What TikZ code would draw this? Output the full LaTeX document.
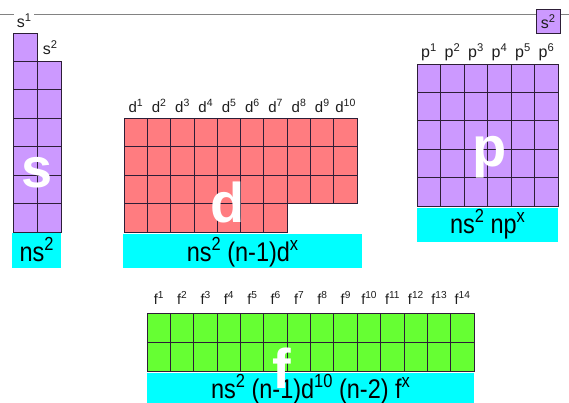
\documentclass[tikz,border=0pt]{standalone}
\usepackage{fontspec}
\setmainfont{Liberation Sans}
\definecolor{sblk}{RGB}{204,153,255}
\definecolor{dblk}{RGB}{255,124,128}
\definecolor{fblk}{RGB}{102,255,51}
\definecolor{cfgc}{RGB}{0,255,255}
\definecolor{gridc}{RGB}{45,30,55}
\definecolor{rulec}{RGB}{130,130,130}
\definecolor{labc}{RGB}{30,30,30}
% raised, reduced superscript that follows the current font size
\newcommand\hi[1]{\raisebox{0.4em}{\scalebox{0.7}{#1}}}
% slightly taller lettering for the configuration strips
\newcommand\tallx[1]{\scalebox{1}[1.15]{#1}}
\tikzset{
  scell/.style={fill=sblk,draw=gridc,line width=0.8pt},
  dcell/.style={fill=dblk,draw=gridc,line width=0.8pt},
  fcell/.style={fill=fblk,draw=gridc,line width=0.8pt},
  cfgbox/.style={fill=cfgc},
  cfgtext/.style={anchor=base,inner sep=0pt,font=\fontsize{23.5}{26}\selectfont},
  biglet/.style={anchor=base,inner sep=0pt,text=white,font=\fontsize{56}{60}\selectfont\bfseries},
  slab/.style={anchor=base,inner sep=1pt,text=labc,font=\fontsize{16}{18}\selectfont},
  dlab/.style={anchor=base,inner sep=0pt,text=labc,font=\fontsize{15}{17}\selectfont},
  flab/.style={anchor=base,inner sep=0pt,text=labc,font=\fontsize{14.5}{16}\selectfont},
}
\begin{document}
\begin{tikzpicture}[x=1pt,y=-1pt]
\useasboundingbox (0,0) rectangle (569,403);
\fill[white] (0,0) rectangle (569,403);
% top rule
\coordinate (ruleL) at (0,15);
\coordinate (ruleR) at (569,15);
\draw[rulec,line width=1pt] (ruleL) -- (ruleR);

% s block
\foreach \j in {0,...,6} \draw[scell] (13,{33+28.43*\j}) rectangle ++(24,28.43);
\foreach \j in {0,...,5} \draw[scell] (37,{61+28.5*\j}) rectangle ++(24,28.5);
\node[slab,fill=white,inner xsep=3pt] (s1) at (24,28) {s\hi{1}};
\node[slab] (s2) at (50,55) {s\hi{2}};
\fill[cfgbox] (12,233) rectangle (61,268);
\node[cfgtext] (sconf) at (36.5,261) {\tallx{ns\hi{2}}};
\node[biglet] (sbig) at (37,187) {s};

% helium s2 box
\draw[scell] (536,9) rectangle (560,33);
\node[slab] (he) at (548,29) {s\hi{2}};

% p block
\foreach \i in {0,...,5} \foreach \j in {0,...,4}
  \draw[scell] ({417+23.5*\i},{64+28.4*\j}) rectangle ++(23.5,28.4);
\foreach \n in {1,...,6}
  \node[slab] (p\n) at ({417+23.5*(\n-0.5)},58) {p\hi{\n}};
\fill[cfgbox] (417,208) rectangle (558,242);
\node[cfgtext] (pconf) at (487.5,233) {\tallx{ns\hi{2} np\hi{x}}};
\node[biglet] (pbig) at (490,167) {p};

% d block
\foreach \i in {0,...,9} \foreach \j in {0,...,2}
  \draw[dcell] ({124+23.3*\i},{118+28.5*\j}) rectangle ++(23.3,28.5);
\foreach \i in {0,...,6}
  \draw[dcell] ({124+23.3*\i},{118+28.5*3}) rectangle ++(23.3,28.5);
\foreach \n in {1,...,10}
  \node[dlab] (d\n) at ({124+23.3*(\n-0.5)},113) {d\hi{\n}};
\fill[cfgbox] (123,234) rectangle (362,268);
\node[cfgtext] (dconf) at (242.5,261) {\tallx{ns\hi{2} (n-1)d\hi{x}}};
\node[biglet] (dbig) at (228,222) {d};

% f block
\foreach \i in {0,...,13} \foreach \j in {0,1}
  \draw[fcell] ({147+23.36*\i},{313+29*\j}) rectangle ++(23.36,29);
\foreach \n in {1,...,14}
  \node[flab] (f\n) at ({147+23.36*(\n-0.5)},304) {f\hi{\n}};
\fill[cfgbox] (147,373) rectangle (474,403);
\node[cfgtext] (fconf) at (310.5,398) {\tallx{ns\hi{2} (n-1)d\hi{10} (n-2) f\hi{x}}};
\node[biglet] (fbig) at (282,388) {f};
\end{tikzpicture}
\end{document}
